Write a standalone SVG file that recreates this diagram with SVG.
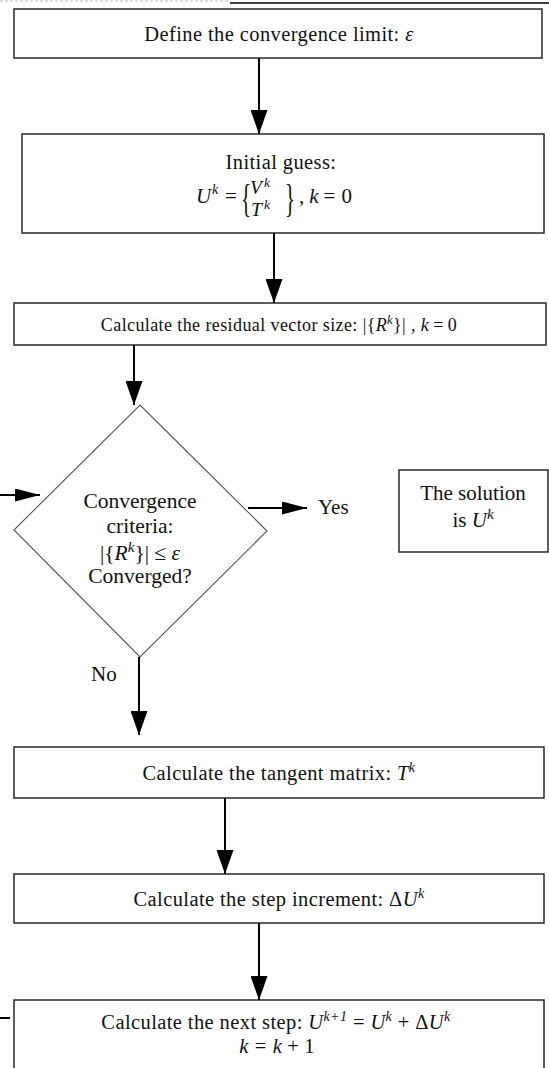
<svg xmlns="http://www.w3.org/2000/svg" width="549" height="1068" viewBox="0 0 549 1068">
<style>
  .box{fill:#fff;stroke:#1a1a1a;stroke-width:1.4}
  .dia{fill:#fff;stroke:#555;stroke-width:1.1}
  .con{stroke:#000;stroke-width:2;fill:none}
  text{font-family:"Liberation Serif","DejaVu Serif",serif;fill:#111}
  .c{text-anchor:middle}
  .m{font-size:20.5px;letter-spacing:0.4px}
  .b3{font-size:18px;letter-spacing:0.4px}
  .d{font-size:21.5px}
  .f21{font-size:21px}
  .i{font-style:italic}
</style>
<defs>
  <marker id="ah" viewBox="0 0 24 17" refX="24" refY="8.5" markerWidth="24" markerHeight="17" markerUnits="userSpaceOnUse" orient="auto">
    <path d="M0,0 L24,8.5 L0,17 Z" fill="#000"/>
  </marker>
  <marker id="ahs" viewBox="0 0 25 13" refX="25" refY="6.5" markerWidth="25" markerHeight="13" markerUnits="userSpaceOnUse" orient="auto">
    <path d="M0,0 L25,6.5 L0,13 Z" fill="#000"/>
  </marker>
</defs>
<rect width="549" height="1068" fill="#fff"/>
<line x1="0" y1="1" x2="230" y2="1" stroke="#bbb" stroke-width="1" stroke-dasharray="3,2"/>
<line x1="230" y1="3" x2="549" y2="3" stroke="#000" stroke-width="1.5"/>

<g id="connectors">
  <line class="con" x1="259" y1="58" x2="259" y2="134" marker-end="url(#ah)"/>
  <line class="con" x1="274" y1="233" x2="274" y2="303" marker-end="url(#ah)"/>
  <line class="con" x1="134" y1="345" x2="134" y2="405" marker-end="url(#ah)"/>
  <line class="con" x1="248" y1="508" x2="307" y2="508" marker-end="url(#ahs)"/>
  <line class="con" x1="0" y1="495" x2="40" y2="495" marker-end="url(#ahs)"/>
  <line class="con" x1="139" y1="657" x2="139" y2="735" marker-end="url(#ah)"/>
  <line class="con" x1="225" y1="798" x2="225" y2="874" marker-end="url(#ah)"/>
  <line class="con" x1="259" y1="923" x2="259" y2="1000" marker-end="url(#ah)"/>
  <line class="con" x1="0" y1="1018" x2="10" y2="1018"/>
</g>

<g id="n1">
  <rect class="box" x="14" y="9" width="528" height="49"/>
  <text class="c m" x="279" y="41">Define the convergence limit: <tspan class="i">ε</tspan></text>
</g>

<g id="n2">
  <rect class="box" x="22" y="134" width="522" height="99"/>
  <text class="c m" x="281" y="169">Initial guess:</text>
  <text class="f21 i" x="196" y="203">U</text>
  <text class="i" font-size="14" x="212" y="194">k</text>
  <text class="f21" x="225" y="203">=</text>
  <text class="f21" x="241" y="212" transform="translate(241,212) scale(1,1.9) translate(-241,-212)">{</text>
  <text class="i" font-size="19.5" x="250" y="194">V</text>
  <text class="i" font-size="13.5" x="264" y="187">k</text>
  <text class="i" font-size="19.5" x="251" y="216">T</text>
  <text class="i" font-size="13.5" x="264" y="209">k</text>
  <text class="f21" x="285" y="212" transform="translate(285,212) scale(1,1.9) translate(-285,-212)">}</text>
  <text class="f21" x="299" y="203">,<tspan class="i" dx="5">k</tspan><tspan dx="5">=</tspan><tspan dx="6">0</tspan></text>
</g>

<g id="n3">
  <rect class="box" x="14" y="303" width="532" height="42"/>
  <text class="c b3" x="279" y="331">Calculate the residual vector size: |{<tspan class="i">R</tspan><tspan class="i" font-size="12.5" dy="-7">k</tspan><tspan dy="7">}| , </tspan><tspan class="i">k</tspan><tspan dx="4">=</tspan><tspan dx="4">0</tspan></text>
</g>

<g id="n4">
  <polygon class="dia" points="140,405 267,531 140,657 14,530"/>
  <text class="c d" x="140" y="508">Convergence</text>
  <text class="c d" x="140" y="533">criteria:</text>
  <text class="c d" x="140" y="560">|{<tspan class="i">R</tspan><tspan class="i" font-size="15" dy="-8">k</tspan><tspan dy="8">}| ≤ </tspan><tspan class="i">ε</tspan></text>
  <text class="c d" x="140" y="583">Converged?</text>
</g>

<text class="f21" x="318" y="514">Yes</text>
<text class="f21" x="91" y="681">No</text>

<g id="n5">
  <rect class="box" x="399" y="470" width="149" height="82"/>
  <text class="c f21" x="473" y="500">The solution</text>
  <text class="c f21" x="473" y="527">is <tspan class="i">U</tspan><tspan class="i" font-size="15" dy="-8">k</tspan></text>
</g>

<g id="n6">
  <rect class="box" x="14" y="747" width="530" height="51"/>
  <text class="c m" x="279" y="780">Calculate the tangent matrix: <tspan class="i">T</tspan><tspan class="i" font-size="14" dy="-8">k</tspan></text>
</g>

<g id="n7">
  <rect class="box" x="14" y="874" width="530" height="49"/>
  <text class="c m" x="279" y="906">Calculate the step increment: Δ<tspan class="i">U</tspan><tspan class="i" font-size="14" dy="-8">k</tspan></text>
</g>

<g id="n8">
  <rect class="box" x="14" y="1000" width="530" height="80"/>
  <text class="c m" x="276" y="1029">Calculate the next step: <tspan class="i">U</tspan><tspan class="i" font-size="14" dy="-8">k+1</tspan><tspan dy="8"> = </tspan><tspan class="i">U</tspan><tspan class="i" font-size="14" dy="-8">k</tspan><tspan dy="8"> + Δ</tspan><tspan class="i">U</tspan><tspan class="i" font-size="14" dy="-8">k</tspan></text>
  <text class="c m" x="277" y="1053"><tspan class="i">k</tspan><tspan dx="6">=</tspan><tspan class="i" dx="6">k</tspan><tspan dx="5">+</tspan><tspan dx="5">1</tspan></text>
</g>
</svg>
